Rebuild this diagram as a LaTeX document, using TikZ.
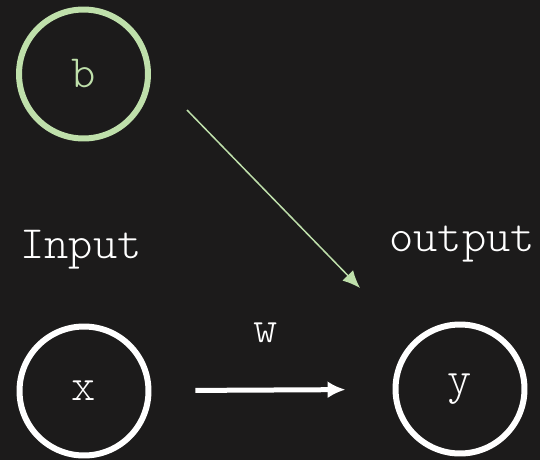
\documentclass[tikz,border=0pt]{standalone}
\usepackage{xcolor}
\usepackage{fontspec}
\definecolor{colorboard}{rgb}{0.11,0.105,0.105}
\definecolor{colorbias}{rgb}{0.75,0.88,0.67}
\usepackage{tikz}
\usetikzlibrary{arrows.meta}

\begin{document}
\begin{tikzpicture}[x=0.02cm,y=-0.02cm,
  unit/.style={circle,draw=white,line width=0.12cm,minimum size=2.58cm,
    text=white,font=\ttfamily\fontseries{l}\fontsize{26.3}{31}\selectfont},
  lbl/.style={text=white,font=\ttfamily\fontseries{l}\fontsize{26.3}{31}\selectfont}]
% Board
\fill[colorboard] (0,0) rectangle (540,460);
\useasboundingbox (0,0) rectangle (540,460);

% Bias unit (top)
\node[unit,draw=colorbias,text=colorbias] (b) at (83.5,74) {b};

% Input and output units (bottom)
\node[unit] (x) at (84,391) {x};
\node[unit] (y) at (460,389) {y};

% Labels
\node[lbl] (in) at (81,250) {Input};
\node[lbl] (out) at (462,244) {output};
\node[lbl] (w) at (266,333) {w};

% Weight arrow
\draw[white,line width=0.1cm,-{Latex[length=0.36cm,width=0.34cm]},
  shorten <=0.88cm,shorten >=0.94cm] (x) -- (y);

% Bias arrow
\coordinate (bstart) at (187,110);
\coordinate (bend) at (360,288);
\draw[colorbias,line width=0.03cm,-{Latex[length=0.35cm,width=0.3cm]}] (bstart) -- (bend);
\end{tikzpicture}
\end{document}
